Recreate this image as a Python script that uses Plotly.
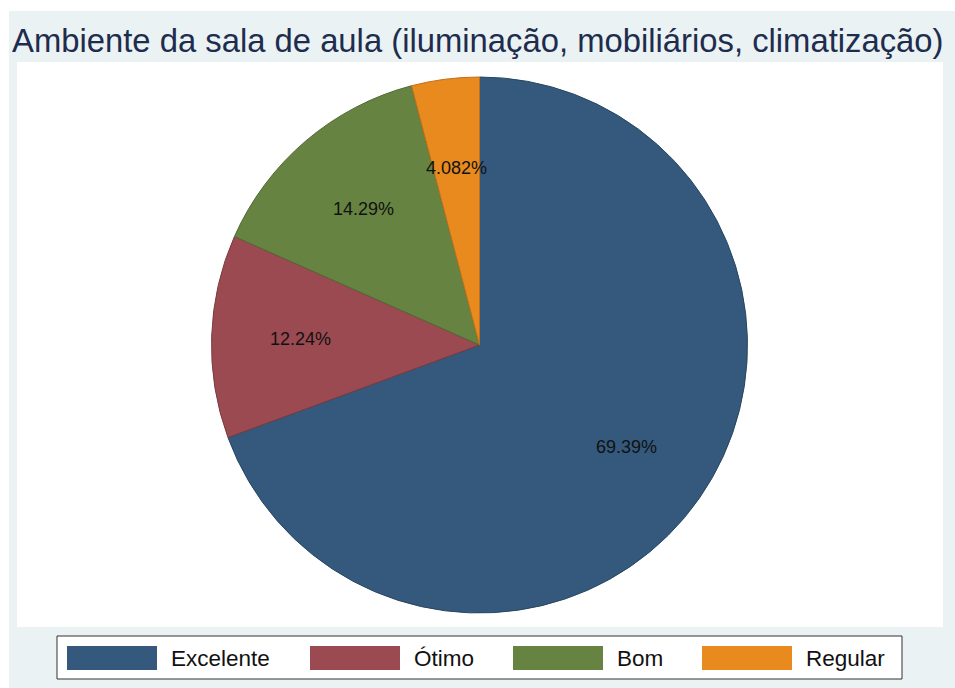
import math
import plotly.graph_objects as go

# ---- data ----
categories = ["Excelente", "Ótimo", "Bom", "Regular"]
counts = [34, 6, 7, 2]
slice_colors = ["#34597d", "#9b4a51", "#668342", "#e88a1e"]
edge_colors = ["#27465f", "#7c3a40", "#506a33", "#c0701a"]
title_text = "Ambiente da sala de aula (iluminação, mobiliários, climatização)"

W, H = 955, 688
FONT = "Liberation Sans, Arial, sans-serif"

# pie geometry (pixels)
cx, cy, R = 479.5, 345, 268

def px(x):
    return x / W

def py(y):
    return 1 - y / H

fig = go.Figure()
fig.add_trace(go.Pie(
    labels=categories,
    values=counts,
    sort=False,
    direction="clockwise",
    rotation=0,
    marker=dict(colors=slice_colors, line=dict(color=edge_colors, width=1)),
    textinfo="none",
    hoverinfo="label+percent",
    showlegend=False,
    domain=dict(x=[px(cx - R), px(cx + R)], y=[py(cy + R), py(cy - R)]),
))

shapes = [
    # outer graph region
    dict(type="rect", xref="paper", yref="paper", x0=px(9), x1=px(955), y0=py(688), y1=py(11),
         fillcolor="#eaf2f3", line=dict(width=0), layer="below"),
    # inner plot region
    dict(type="rect", xref="paper", yref="paper", x0=px(17), x1=px(943), y0=py(627), y1=py(62),
         fillcolor="#ffffff", line=dict(width=0), layer="below"),
    # legend box
    dict(type="rect", xref="paper", yref="paper", x0=px(57), x1=px(902), y0=py(679), y1=py(636),
         fillcolor="#ffffff", line=dict(color="#333333", width=1), layer="below"),
]

annotations = [
    dict(text=title_text, xref="paper", yref="paper", x=px(10), y=py(40.5),
         xanchor="left", yanchor="middle", showarrow=False,
         font=dict(family=FONT, size=32.8, color="#1e2c4e")),
]

# percentage labels at 2/3 radius of each slice's mid-angle
total = sum(counts)
cum = 0
for c in counts:
    mid = (cum + c / 2) / total * 2 * math.pi
    cum += c
    pct = 100 * c / total
    txt = f"{pct:.4g}%"
    lx = cx + (2 / 3) * R * math.sin(mid)
    ly = cy - (2 / 3) * R * math.cos(mid)
    annotations.append(dict(text=txt, xref="paper", yref="paper", x=px(lx), y=py(ly),
                            xanchor="center", yanchor="middle", showarrow=False,
                            font=dict(family=FONT, size=18, color="#111111")))

# custom legend with wide swatches
legend_x = [67, 310, 513, 702]
for name, col, lx in zip(categories, slice_colors, legend_x):
    shapes.append(dict(type="rect", xref="paper", yref="paper", x0=px(lx), x1=px(lx + 90),
                       y0=py(670), y1=py(646), fillcolor=col, line=dict(width=0)))
    annotations.append(dict(text=name, xref="paper", yref="paper", x=px(lx + 102), y=py(658.5),
                            xanchor="left", yanchor="middle", showarrow=False,
                            font=dict(family=FONT, size=22.5, color="#111111")))

fig.update_layout(
    width=W, height=H,
    margin=dict(l=0, r=0, t=0, b=0),
    paper_bgcolor="#ffffff",
    shapes=shapes,
    annotations=annotations,
    showlegend=False,
)

fig.write_html("out.html",
               config={"displayModeBar": False},
               post_script="document.body.style.margin='0';document.body.style.overflow='hidden';")
